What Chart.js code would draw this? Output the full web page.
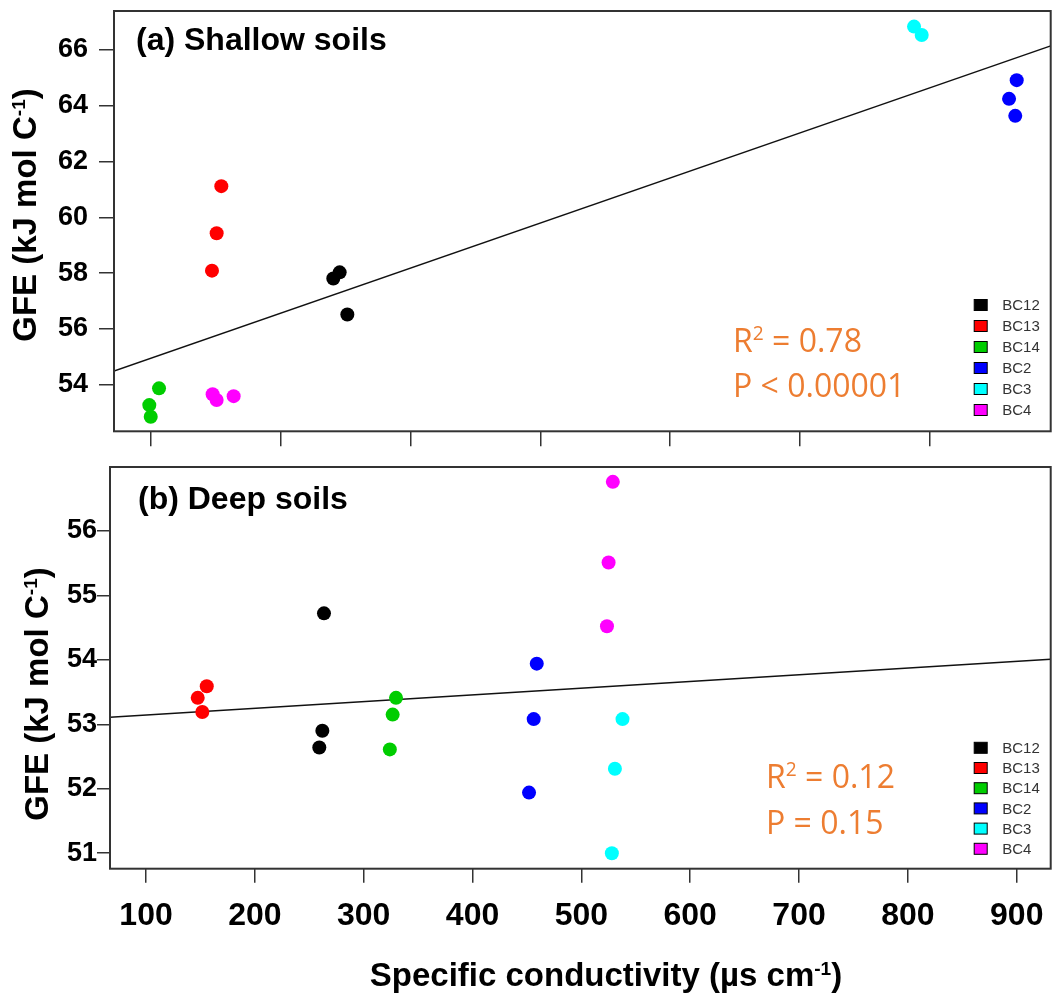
<!DOCTYPE html>
<html>
<head>
<meta charset="utf-8">
<script src="https://cdn.jsdelivr.net/npm/chart.js@4.4.1/dist/chart.umd.min.js"></script>
<style>
  html, body { margin: 0; padding: 0; background: #fff; }
  #wrap { position: relative; width: 1063px; height: 1003px; }
  #wrap canvas { position: absolute; left: 0; }
</style>
</head>
<body>
<div id="wrap">
  <canvas id="shallow" width="1063" height="460" style="top:0px"></canvas>
  <canvas id="deep" width="1063" height="543" style="top:460px"></canvas>
</div>
<script>
const sites = ['BC12', 'BC13', 'BC14', 'BC2', 'BC3', 'BC4'];
const siteColors = ['#000000', '#ff0000', '#00cd00', '#0000ff', '#00ffff', '#ff00ff'];

// (a) shallow soils, one row per site
const shallowCond = [
  [240.5, 245.4, 251.3],
  [154.2, 150.6, 147.0],
  [106.2, 98.7, 99.8],
  [767.1, 761.2, 766.0],
  [688.0, 693.9],
  [147.5, 150.6, 163.7]
];
const shallowGFE = [
  [57.81, 58.03, 56.52],
  [61.12, 59.43, 58.09],
  [53.87, 53.27, 52.85],
  [64.92, 64.25, 63.64],
  [66.84, 66.54],
  [53.66, 53.45, 53.59]
];
const shallowFitX = [71.5, 793.3];
const shallowFitY = [54.49, 66.15];
const shallowXTicks = [100, 200, 300, 400, 500, 600, 700];
const shallowYTicks = [54, 56, 58, 60, 62, 64, 66];

// (b) deep soils
const deepCond = [
  [263.5, 262.0, 259.2],
  [155.8, 147.5, 151.7],
  [329.7, 326.6, 324.0],
  [459.0, 456.2, 451.9],
  [537.8, 530.8, 528.0],
  [528.9, 525.0, 523.5]
];
const deepGFE = [
  [54.72, 52.90, 52.64],
  [53.59, 53.41, 53.19],
  [53.41, 53.15, 52.61],
  [53.94, 53.08, 51.94],
  [53.08, 52.31, 51.00],
  [56.76, 55.51, 54.52]
];
const deepFitX = [66.9, 931.2];
const deepFitY = [53.11, 54.01];
const deepXTicks = [100, 200, 300, 400, 500, 600, 700, 800, 900];
const deepYTicks = [51, 52, 53, 54, 55, 56];

const SANS = '"Liberation Sans", Arial, sans-serif';
const yTitle = [['GFE (kJ mol C', false], ['-1', true], [')', false]];
const xTitle = [['Specific conductivity (\u00b5s cm', false], ['-1', true], [')', false]];

// draws text made of plain and superscript parts
function drawParts(ctx, parts, x, y, size, weight, family, align, supScale, supRise) {
  supScale = supScale || 0.6;
  supRise = supRise || 0.38;
  const font = sz => weight + ' ' + sz + 'px ' + family;
  let total = 0;
  const widths = parts.map(([t, sup]) => {
    ctx.font = font(sup ? size * supScale : size);
    const w = ctx.measureText(t).width;
    total += w;
    return w;
  });
  let cx = align === 'center' ? x - total / 2 : x;
  ctx.textAlign = 'left';
  ctx.textBaseline = 'alphabetic';
  parts.forEach(([t, sup], i) => {
    ctx.font = font(sup ? size * supScale : size);
    ctx.fillText(t, cx, sup ? y - size * supRise : y);
    cx += widths[i];
  });
}

const panelDecor = {
  id: 'panelDecor',
  afterDraw(chart, args, o) {
    const ctx = chart.ctx;
    const a = chart.chartArea;
    ctx.save();
    ctx.strokeStyle = '#333';
    ctx.lineWidth = 2;
    ctx.strokeRect(a.left, a.top, a.right - a.left, a.bottom - a.top);

    ctx.fillStyle = '#000';
    drawParts(ctx, [[o.label, false]], o.labelX, o.labelY, 32, 'bold', SANS);

    ctx.fillStyle = '#ed7d31';
    o.stats.forEach((parts, i) => {
      drawParts(ctx, parts, o.statsX, o.statsY + i * o.statsGap, 32, 'normal', '"Open Sans", sans-serif');
    });

    // legend boxes
    let row = 0;
    chart.data.datasets.forEach(ds => {
      if (ds.isFit) return;
      const y = o.legendY + row * o.legendGap;
      ctx.fillStyle = ds.backgroundColor;
      ctx.fillRect(o.legendX - 6.5, y - 5.5, 13, 11);
      ctx.strokeStyle = '#000';
      ctx.lineWidth = 1;
      ctx.strokeRect(o.legendX - 6.5, y - 5.5, 13, 11);
      ctx.fillStyle = '#333';
      ctx.font = '15px ' + SANS;
      ctx.textAlign = 'left';
      ctx.textBaseline = 'middle';
      ctx.fillText(ds.label, o.legendX + 21.5, y + 1);
      row++;
    });

    ctx.fillStyle = '#000';
    if (o.xTitleX) {
      drawParts(ctx, xTitle, o.xTitleX, o.xTitleY, 33, 'bold', SANS, 'center', 0.58, 0.33);
    }
    ctx.translate(o.yTitleX, o.yTitleY);
    ctx.rotate(-Math.PI / 2);
    drawParts(ctx, yTitle, 0, 0, 33, 'bold', SANS, 'center', 0.58, 0.33);
    ctx.restore();
  }
};

function makePanel(id, cfg) {
  const datasets = sites.map((s, i) => ({
    label: s,
    data: cfg.cond[i].map((x, j) => ({ x: x, y: cfg.gfe[i][j] })),
    backgroundColor: siteColors[i],
    borderColor: siteColors[i],
    borderWidth: 0,
    pointRadius: 7,
    pointHoverRadius: 7,
    order: 1
  }));
  datasets.push({
    label: 'fit',
    type: 'line',
    isFit: true,
    data: cfg.fitX.map((x, j) => ({ x: x, y: cfg.fitY[j] })),
    borderColor: '#111',
    borderWidth: 1.5,
    pointRadius: 0,
    fill: false,
    order: 2
  });

  new Chart(document.getElementById(id), {
    type: 'scatter',
    data: { datasets: datasets },
    plugins: [panelDecor],
    options: {
      responsive: false,
      animation: false,
      events: [],
      layout: { padding: { top: cfg.padTop, right: 12.3, left: 0, bottom: 0 } },
      plugins: {
        legend: { display: false },
        tooltip: { enabled: false },
        panelDecor: cfg.decor
      },
      scales: {
        x: {
          type: 'linear',
          min: cfg.fitX[0],
          max: cfg.fitX[1],
          afterBuildTicks: s => { s.ticks = cfg.xTicks.map(v => ({ value: v })); },
          afterFit: s => { s.height = cfg.xAxisH; s.paddingLeft = 0; s.paddingRight = 0; },
          border: { display: false },
          grid: { drawOnChartArea: false, tickLength: cfg.xTickLen, color: '#333', lineWidth: 1.5 },
          ticks: {
            display: cfg.xLabels,
            autoSkip: false,
            maxRotation: 0,
            padding: 14,
            color: '#000',
            font: { family: SANS, size: 32, weight: 'bold' }
          }
        },
        y: {
          type: 'linear',
          min: cfg.yMin,
          max: cfg.yMax,
          afterBuildTicks: s => { s.ticks = cfg.yTicks.map(v => ({ value: v })); },
          afterFit: s => { s.width = cfg.yAxisW; s.paddingTop = 0; s.paddingBottom = 0; },
          border: { display: false },
          grid: { drawOnChartArea: false, tickLength: cfg.yTickLen, color: '#333', lineWidth: 1.5 },
          ticks: {
            padding: cfg.yPad,
            color: '#000',
            font: { family: SANS, size: 27, weight: 'bold' }
          }
        }
      }
    }
  });
}

makePanel('shallow', {
  cond: shallowCond, gfe: shallowGFE,
  fitX: shallowFitX, fitY: shallowFitY,
  xTicks: shallowXTicks, yTicks: shallowYTicks,
  yMin: 52.33, yMax: 67.40,
  padTop: 11, xAxisH: 28.7, yAxisW: 114,
  xTickLen: 15, yTickLen: 15, yPad: 11, xLabels: false,
  decor: {
    label: '(a) Shallow soils', labelX: 136, labelY: 50,
    stats: [[['R', false], ['2', true], [' = 0.78', false]], [['P < 0.00001', false]]],
    statsX: 733, statsY: 351.7, statsGap: 45,
    legendX: 980.7, legendY: 305, legendGap: 21,
    yTitleX: 36, yTitleY: 215
  }
});

makePanel('deep', {
  cond: deepCond, gfe: deepGFE,
  fitX: deepFitX, fitY: deepFitY,
  xTicks: deepXTicks, yTicks: deepYTicks,
  yMin: 50.76, yMax: 56.99,
  padTop: 4, xAxisH: 134.3, yAxisW: 110,
  xTickLen: 14, yTickLen: 13, yPad: 0, xLabels: true,
  decor: {
    label: '(b) Deep soils', labelX: 138, labelY: 48.5,
    stats: [[['R', false], ['2', true], [' = 0.12', false]], [['P = 0.15', false]]],
    statsX: 766, statsY: 328.4, statsGap: 45.1,
    legendX: 980.7, legendY: 287.8, legendGap: 20.2,
    yTitleX: 48, yTitleY: 234,
    xTitleX: 606, xTitleY: 526
  }
});
</script>
</body>
</html>
